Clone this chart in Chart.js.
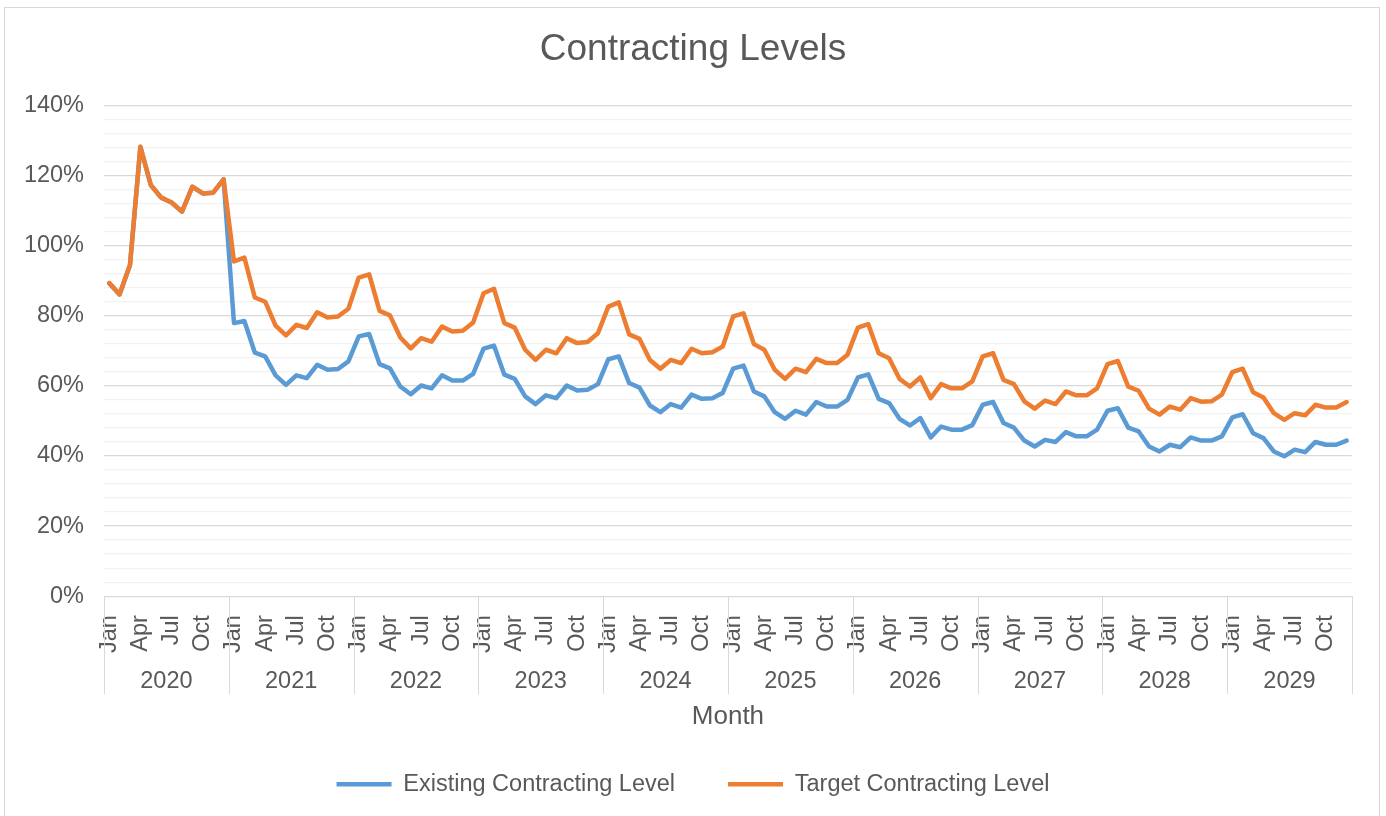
<!DOCTYPE html>
<html>
<head>
<meta charset="utf-8">
<script src="https://cdn.jsdelivr.net/npm/chart.js@4.4.1/dist/chart.umd.min.js"></script>
<style>
  html, body { margin: 0; padding: 0; background: #ffffff; }
  #frame { position: absolute; left: 4px; top: 7px; width: 1376px; height: 815px; border: 1px solid #d9d9d9; box-sizing: border-box; }
  #wrap { position: absolute; left: 0; top: 0; width: 1386px; height: 816px; }
</style>
</head>
<body>
<div id="frame"></div>
<div id="wrap"><canvas id="c" width="1386" height="816"></canvas></div>
<script>
const years = ['2020','2021','2022','2023','2024','2025','2026','2027','2028','2029'];
const monthNames = ['Jan','Feb','Mar','Apr','May','Jun','Jul','Aug','Sep','Oct','Nov','Dec'];
const yTickLabels = ['0%','20%','40%','60%','80%','100%','120%','140%'];

const existingLevel = [
  89.3, 86.1, 94.5, 128.2, 117.3, 113.7, 112.3, 109.7, 116.8, 114.9, 115.1, 118.9,
  77.9, 78.5, 69.5, 68.4, 63.0, 60.3, 63.0, 62.2, 66.0, 64.6, 64.8, 67.0,
  74.1, 74.8, 66.2, 65.0, 59.8, 57.6, 60.1, 59.3, 63.0, 61.5, 61.5, 63.4,
  70.6, 71.5, 63.2, 62.0, 57.0, 54.8, 57.3, 56.5, 60.1, 58.7, 58.9, 60.5,
  67.6, 68.4, 60.8, 59.5, 54.4, 52.5, 54.8, 53.8, 57.5, 56.3, 56.5, 58.0,
  64.9, 65.8, 58.4, 57.0, 52.5, 50.6, 52.9, 51.8, 55.4, 54.1, 54.1, 56.0,
  62.4, 63.3, 56.3, 55.1, 50.6, 48.7, 50.8, 45.3, 48.4, 47.5, 47.5, 48.8,
  54.6, 55.4, 49.4, 48.1, 44.4, 42.7, 44.6, 44.0, 46.8, 45.6, 45.6, 47.5,
  52.9, 53.6, 48.1, 47.0, 42.7, 41.3, 43.2, 42.5, 45.3, 44.4, 44.4, 45.6,
  51.0, 51.9, 46.5, 45.1, 41.3, 39.9, 41.8, 41.1, 44.0, 43.2, 43.2, 44.4
];

const targetLevel = [
  89.3, 86.1, 94.5, 128.2, 117.3, 113.7, 112.3, 109.7, 116.8, 114.9, 115.1, 118.9,
  95.5, 96.6, 85.2, 84.0, 77.2, 74.4, 77.4, 76.5, 81.0, 79.5, 79.8, 82.0,
  90.9, 91.8, 81.4, 80.1, 73.8, 70.7, 73.6, 72.6, 76.9, 75.5, 75.7, 78.1,
  86.4, 87.7, 77.9, 76.6, 70.3, 67.4, 70.3, 69.3, 73.6, 72.2, 72.5, 75.0,
  82.6, 83.8, 74.7, 73.4, 67.4, 64.9, 67.4, 66.5, 70.6, 69.3, 69.6, 71.2,
  79.8, 80.7, 71.9, 70.3, 64.6, 62.0, 64.9, 63.9, 67.7, 66.5, 66.5, 68.9,
  76.6, 77.6, 69.3, 67.9, 62.0, 59.8, 62.4, 56.5, 60.5, 59.3, 59.3, 61.3,
  68.4, 69.3, 61.7, 60.5, 55.6, 53.5, 55.8, 54.8, 58.4, 57.3, 57.3, 59.3,
  66.2, 67.1, 59.8, 58.6, 53.5, 51.8, 54.1, 53.2, 56.5, 55.5, 55.6, 57.5,
  63.9, 64.9, 58.2, 56.7, 52.2, 50.3, 52.2, 51.6, 54.6, 53.8, 53.8, 55.4
];

const monthLabels = [];
years.forEach(() => monthNames.forEach(m => monthLabels.push(m)));

const textColor = '#595959';
const fontFamily = '"Liberation Sans", Arial, sans-serif';

const separators = {
  id: 'separators',
  afterDraw(chart) {
    const xs = chart.scales.x;
    const x2 = chart.scales.x2;
    const ctx = chart.ctx;
    const yTop = xs.top;
    const yBot = x2.top + 30;
    ctx.save();
    ctx.strokeStyle = '#d9d9d9';
    ctx.lineWidth = 1;
    for (let k = 0; k <= years.length; k++) {
      const px = Math.round(xs.getPixelForValue(k * 12 - 0.5)) + 0.5;
      ctx.beginPath();
      ctx.moveTo(px, yTop);
      ctx.lineTo(px, yBot);
      ctx.stroke();
    }
    ctx.restore();
  }
};

new Chart(document.getElementById('c'), {
  type: 'line',
  data: {
    labels: monthLabels,
    datasets: [
      {
        label: 'Target Contracting Level',
        data: targetLevel,
        borderColor: '#ED7D31',
        backgroundColor: '#ED7D31',
        borderWidth: 4.5,
        pointRadius: 0,
        pointHoverRadius: 0,
        tension: 0,
        borderCapStyle: 'round',
        borderJoinStyle: 'round'
      },
      {
        label: 'Existing Contracting Level',
        data: existingLevel,
        borderColor: '#5B9BD5',
        backgroundColor: '#5B9BD5',
        borderWidth: 4.5,
        pointRadius: 0,
        pointHoverRadius: 0,
        tension: 0,
        borderCapStyle: 'round',
        borderJoinStyle: 'round'
      }
    ]
  },
  options: {
    responsive: false,
    animation: false,
    events: [],
    layout: { padding: { left: 4, right: 4, top: 0, bottom: 10 } },
    plugins: {
      title: {
        display: true,
        text: 'Contracting Levels',
        color: textColor,
        font: { family: fontFamily, size: 37, weight: 'normal' },
        padding: { top: 28, bottom: 33 }
      },
      legend: {
        display: true,
        position: 'bottom',
        reverse: true,
        labels: {
          usePointStyle: true,
          pointStyle: 'line',
          pointStyleWidth: 55,
          color: textColor,
          font: { family: fontFamily, size: 23.5 },
          padding: 53
        }
      },
      tooltip: { enabled: false }
    },
    scales: {
      x: {
        type: 'category',
        offset: true,
        grid: { display: false },
        border: { display: false },
        ticks: {
          autoSkip: false,
          minRotation: 90,
          maxRotation: 90,
          padding: 11,
          color: textColor,
          font: { family: fontFamily, size: 23.5 },
          callback: function(v, i) { return i % 3 === 0 ? monthLabels[i] : ''; }
        }
      },
      x2: {
        type: 'category',
        position: 'bottom',
        labels: years,
        offset: true,
        grid: { display: false },
        border: { display: false },
        ticks: {
          padding: -4.5,
          color: textColor,
          font: { family: fontFamily, size: 23.5 }
        },
        title: {
          display: true,
          text: 'Month',
          color: textColor,
          font: { family: fontFamily, size: 26 },
          padding: { top: 10, bottom: -13 }
        }
      },
      y: {
        min: 0,
        max: 140,
        border: { display: false },
        afterFit: function(scale) { scale.width = 100; },
        grid: {
          drawTicks: false,
          tickLength: 0,
          color: function(c) {
            const v = Math.round(c.tick.value);
            return v % 20 === 0 ? '#d9d9d9' : '#f2f2f2';
          },
          lineWidth: 1.3
        },
        ticks: {
          stepSize: 4,
          autoSkip: false,
          padding: 20,
          color: textColor,
          font: { family: fontFamily, size: 23.5 },
          callback: function(v) {
            const r = Math.round(v);
            return r % 20 === 0 ? yTickLabels[r / 20] : '';
          }
        }
      },
      yRight: {
        type: 'linear',
        position: 'right',
        display: true,
        afterFit: function(scale) { scale.width = 30; },
        grid: { display: false, drawTicks: false },
        border: { display: false },
        ticks: { display: false }
      }
    }
  },
  plugins: [separators]
});
</script>
</body>
</html>
